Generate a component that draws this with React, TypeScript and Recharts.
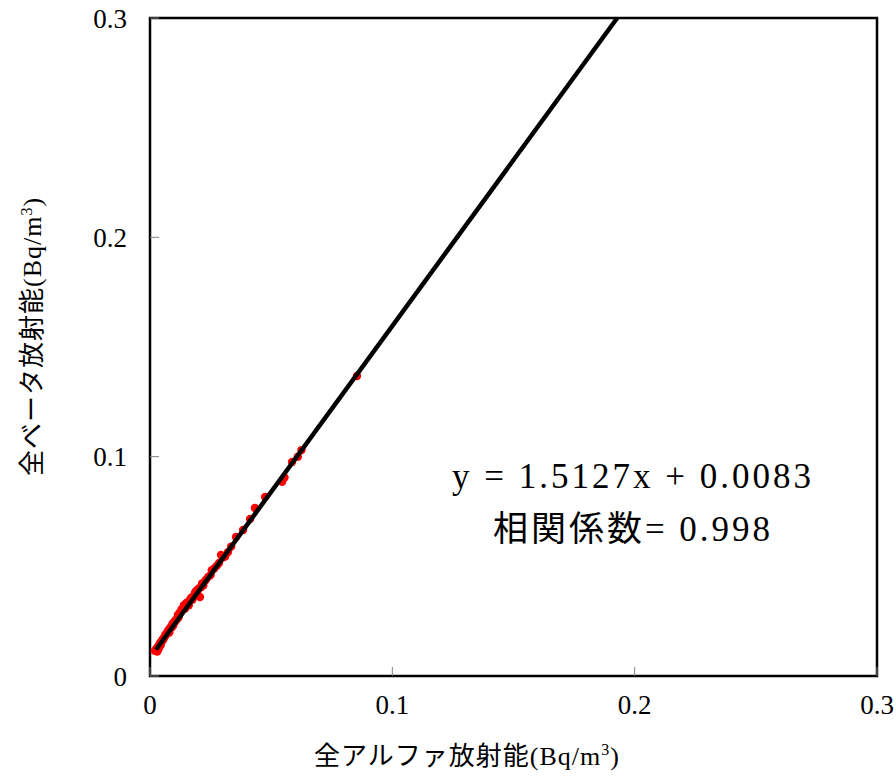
import React from 'react';
import { ScatterChart, Scatter, XAxis, YAxis, ReferenceArea } from 'recharts';

const alphaValues = [
  0.0020, 0.0025, 0.0028, 0.0030, 0.0033, 0.0035, 0.0038, 0.0040, 0.0042, 0.0045,
  0.0048, 0.0050, 0.0053, 0.0055, 0.0058, 0.0060, 0.0063, 0.0066, 0.0070, 0.0072,
  0.0075, 0.0078, 0.0080, 0.0083, 0.0086, 0.0090, 0.0093, 0.0096, 0.0100, 0.0104,
  0.0108, 0.0112, 0.0115, 0.0118, 0.0122, 0.0126, 0.0130, 0.0135, 0.0140, 0.0145,
  0.0150, 0.0155, 0.0160, 0.0165, 0.0170, 0.0175, 0.0180, 0.0185, 0.0190, 0.0195,
  0.0200, 0.0206, 0.0210, 0.0215, 0.0220, 0.0230, 0.0240, 0.0250, 0.0255, 0.0265,
  0.0275, 0.0285, 0.0293, 0.0300, 0.0310, 0.0322, 0.0335, 0.0355, 0.0384, 0.0413,
  0.0433, 0.0475, 0.0545, 0.0555, 0.0586, 0.0610, 0.0625, 0.0854,
];
const betaValues = [
  0.0115, 0.0120, 0.0128, 0.0112, 0.0133, 0.0122, 0.0143, 0.0135, 0.0152, 0.0143,
  0.0158, 0.0160, 0.0168, 0.0166, 0.0175, 0.0178, 0.0188, 0.0187, 0.0195, 0.0200,
  0.0208, 0.0210, 0.0198, 0.0218, 0.0224, 0.0222, 0.0238, 0.0230, 0.0248, 0.0250,
  0.0258, 0.0260, 0.0278, 0.0268, 0.0288, 0.0290, 0.0303, 0.0305, 0.0323, 0.0308,
  0.0333, 0.0335, 0.0322, 0.0348, 0.0357, 0.0348, 0.0362, 0.0377, 0.0388, 0.0378,
  0.0398, 0.0360, 0.0405, 0.0422, 0.0413, 0.0438, 0.0452, 0.0460, 0.0482, 0.0490,
  0.0502, 0.0515, 0.0552, 0.0540, 0.0545, 0.0565, 0.0590, 0.0634, 0.0666, 0.0716,
  0.0766, 0.0816, 0.0885, 0.0905, 0.0976, 0.1000, 0.1030, 0.1368,
];
const trendX = [0.0025, 0.1928];
const trendY = [0.0121, 0.3000];
const tickValues = [0, 0.1, 0.2, 0.3];

const points = alphaValues.map((a, i) => ({ x: a, y: betaValues[i] }));
const trend = trendX.map((x, i) => ({ x, y: trendY[i] }));

const serif = '"Liberation Serif", "Noto Sans CJK JP", serif';
const fmt = (v: number) => (v === 0 ? '0' : String(v));

const Dot = (props: any) => (
  <circle cx={props.cx} cy={props.cy} r={4.2} fill="#ff0000" />
);

export default function App() {
  return (
    <div style={{ position: 'fixed', left: 0, top: 0, width: 896, height: 778, background: '#fff' }}>
      <ScatterChart width={896} height={778} margin={{ top: 18, right: 19, left: 90, bottom: 62 }}>
        <XAxis
          type="number"
          dataKey="x"
          domain={[0, 0.3]}
          ticks={tickValues}
          tickFormatter={fmt}
          height={40}
          axisLine={false}
          tickSize={-9}
          tickMargin={28}
          tickLine={{ stroke: '#808080' }}
          tick={{ fill: '#000', fontSize: 27, fontFamily: serif }}
        />
        <YAxis
          type="number"
          dataKey="y"
          domain={[0, 0.3]}
          ticks={tickValues}
          tickFormatter={fmt}
          width={60}
          axisLine={false}
          tickSize={-9}
          tickMargin={32}
          tickLine={{ stroke: '#808080' }}
          tick={{ fill: '#000', fontSize: 27, fontFamily: serif }}
        />
        <ReferenceArea x1={0} x2={0.3} y1={0} y2={0.3} fill="none" stroke="#000" strokeWidth={2.5} strokeOpacity={1} fillOpacity={0} />
        <Scatter data={points} shape={Dot} isAnimationActive={false} />
        <Scatter data={trend} line={{ stroke: '#000', strokeWidth: 4.5 }} shape={() => null} isAnimationActive={false} />
      </ScatterChart>
      <div style={{ position: 'absolute', left: 433, top: 450, width: 400, textAlign: 'center', fontFamily: serif, fontSize: 35, letterSpacing: 3, lineHeight: '53px', color: '#000', whiteSpace: 'nowrap' }}>
        <div>y = 1.5127x + 0.0083</div>
        <div>相関係数= 0.998</div>
      </div>
      <div style={{ position: 'absolute', left: 267, top: 733, width: 400, textAlign: 'center', fontFamily: serif, fontSize: 26, letterSpacing: 1, color: '#000', whiteSpace: 'nowrap', lineHeight: '34px' }}>
        全アルファ放射能(Bq/m<sup style={{ fontSize: 16 }}>3</sup>)
      </div>
      <div style={{ position: 'absolute', left: 30, top: 333, width: 0, height: 0 }}>
        <div style={{ position: 'absolute', left: -200, top: -17, width: 400, textAlign: 'center', transform: 'rotate(-90deg)', fontFamily: serif, fontSize: 26, letterSpacing: 1, color: '#000', whiteSpace: 'nowrap', lineHeight: '34px' }}>
          全ベータ放射能(Bq/m<sup style={{ fontSize: 16 }}>3</sup>)
        </div>
      </div>
    </div>
  );
}
